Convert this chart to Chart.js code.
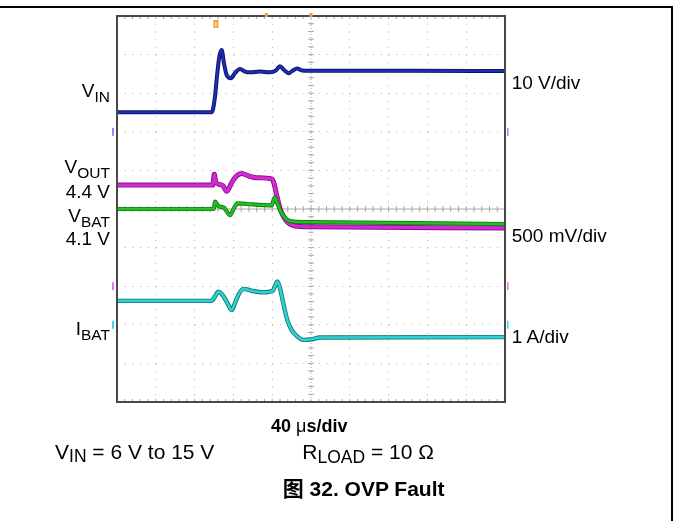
<!DOCTYPE html>
<html>
<head>
<meta charset="utf-8">
<title>OVP Fault</title>
<script src="https://cdn.jsdelivr.net/npm/chart.js@4.4.1/dist/chart.umd.min.js"></script>
<style>
  html, body { margin: 0; padding: 0; background: #fff; }
  #wrap { position: relative; width: 673px; height: 521px; overflow: hidden; }
  #scope { position: absolute; left: 0; top: 0; }
  .t { position: absolute; white-space: nowrap; line-height: 1; color: #000;
       font-family: "Liberation Sans", Arial, "Noto Sans CJK SC", sans-serif; }
  .side { font-size: 19px; }
  .side .s { font-size: 15.5px; position: relative; top: 5px; }
  .foot { font-size: 21px; }
  .foot .s { font-size: 17.5px; position: relative; top: 3.5px; }
  .rule { position: absolute; background: #000; }
</style>
</head>
<body>
<div id="wrap">
  <canvas id="scope" width="673" height="521"></canvas>
  <div class="rule" style="left:0;top:6px;width:673px;height:2px"></div>
  <div class="rule" style="left:671px;top:6px;width:2px;height:515px"></div>

  <div class="t side" style="right:563px;top:81.2px">V<span class="s">IN</span></div>
  <div class="t side" style="right:563px;top:157.2px">V<span class="s">OUT</span></div>
  <div class="t side" style="right:563px;top:182.2px">4.4 V</div>
  <div class="t side" style="right:563px;top:205.6px">V<span class="s">BAT</span></div>
  <div class="t side" style="right:563px;top:228.9px">4.1 V</div>
  <div class="t side" style="right:563px;top:318.9px">I<span class="s">BAT</span></div>

  <div class="t side" style="left:511.7px;top:73.2px">10 V/div</div>
  <div class="t side" style="left:511.7px;top:225.6px">500 mV/div</div>
  <div class="t side" style="left:511.7px;top:326.6px">1 A/div</div>

  <div class="t" style="left:271px;top:416.5px;font-size:18px;font-weight:bold">40 <span style="font-weight:normal">μ</span>s/div</div>
  <div class="t foot" style="left:55px;top:440.5px">V<span class="s">IN</span> = 6 V to 15 V</div>
  <div class="t foot" style="left:302.3px;top:441.2px">R<span class="s">LOAD</span> = 10 Ω</div>
  <div class="t foot" style="left:282.7px;top:477.9px;font-weight:bold">图 32. OVP Fault</div>
</div>

<script>
// time in µs, 40 µs/div, trigger at the centre of the screen
const vinTime  = [-200, -103, -101.3, -99, -96.6, -94.5, -92.1, -89.7, -86.9, -82.5, -78.4, -73.2, -68, -62.9, -52.6, -42.3, -36.1, -32, -27.8, -22.7, -18.6, -14.4, -9.3, 0, 100, 200];
const vinVolts = [5.05, 5.05, 5.6, 9.1, 15.2, 19.5, 21.2, 17.7, 14.7, 13.9, 15.2, 16.3, 15.6, 15.4, 15.6, 15.4, 15.9, 17.0, 16.0, 15.2, 15.9, 16.4, 15.9, 15.8, 15.8, 15.75];

const voutTime  = [-200, -101.3, -99.7, -98.2, -94.8, -90.7, -86.9, -84.5, -81.4, -76.6, -71.4, -64.6, -56, -40.5, -38.1, -35.4, -32, -28.6, -23.4, -16.5, 0, 200];
const voutVolts = [4.41, 4.41, 4.55, 4.45, 4.42, 4.40, 4.33, 4.37, 4.45, 4.53, 4.56, 4.53, 4.505, 4.49, 4.43, 4.28, 4.11, 4.01, 3.92, 3.88, 3.87, 3.855];

const vbatTime  = [-200, -100.2, -99, -95.6, -89.7, -83.5, -79.4, -76, -66.3, -40.5, -37.4, -34.7, -30.2, -25.1, -18.2, 0, 200];
const vbatVolts = [4.10, 4.10, 4.195, 4.14, 4.117, 4.02, 4.11, 4.174, 4.165, 4.148, 4.25, 4.174, 4.044, 3.966, 3.936, 3.93, 3.906];

const ibatTime = [-200, -102.4, -99, -95.6, -92.1, -86.9, -81.8, -78.4, -73.9, -69.1, -61.1, -49.2, -39.5, -34.7, -32, -28.6, -24.4, -19.9, -14.7, -7.9, -0.3, 9.3, 200];
const ibatAmps = [0.62, 0.62, 0.73, 0.86, 0.80, 0.60, 0.38, 0.56, 0.82, 0.93, 0.88, 0.84, 0.88, 1.12, 0.95, 0.56, 0.12, -0.14, -0.29, -0.39, -0.38, -0.33, -0.32];

// channel settings: value per division and the value that sits on the centre line
const vinScale = { perDiv: 10, centre: -20 };
const battScale = { perDiv: 0.5, centre: 4.1 };
const ibatScale = { perDiv: 1, centre: 3 };

function toDiv(times, values, scale) {
  return times.map((t, i) => ({ x: t, y: (values[i] - scale.centre) / scale.perDiv }));
}

// each trace is drawn twice: a darker wider edge under the coloured line
function trace(label, pts, core, edge, width, order) {
  return [
    { label: label, data: pts, borderColor: core, borderWidth: width, order: order },
    { label: label + ' edge', data: pts, borderColor: edge, borderWidth: width + 1.8, order: order + 1 }
  ];
}

const screenDecor = {
  id: 'screenDecor',
  beforeDatasetsDraw(chart) {
    const { ctx, chartArea: a } = chart;
    const cx = chart.scales.x.getPixelForValue(0);
    const cy = chart.scales.y.getPixelForValue(0);
    const sx = (a.right - a.left) / 50, sy = (a.bottom - a.top) / 50;
    ctx.save();
    ctx.lineWidth = 1;
    ctx.strokeStyle = '#a8a8a8';
    ctx.beginPath();
    ctx.moveTo(a.left, cy); ctx.lineTo(a.right, cy);
    for (let i = 1; i < 50; i++) {
      const px = a.left + i * sx, py = a.top + i * sy;
      ctx.moveTo(px, cy - 3); ctx.lineTo(px, cy + 3);
      ctx.moveTo(cx - 3, py); ctx.lineTo(cx + 3, py);
      ctx.moveTo(px, a.top); ctx.lineTo(px, a.top + 3);
      ctx.moveTo(px, a.bottom); ctx.lineTo(px, a.bottom - 3);
    }
    ctx.stroke();
    ctx.setLineDash([1, 2]);
    ctx.beginPath();
    ctx.moveTo(cx, a.top); ctx.lineTo(cx, a.bottom);
    ctx.stroke();
    ctx.restore();
  },
  afterDatasetsDraw(chart) {
    const { ctx, chartArea: a } = chart;
    const xs = chart.scales.x, ys = chart.scales.y;
    ctx.save();
    ctx.strokeStyle = '#484848';
    ctx.lineWidth = 2;
    ctx.strokeRect(a.left, a.top, a.right - a.left, a.bottom - a.top);

    // channel reference markers on both edges
    const refs = [[2, '#8a8aff'], [-2, '#e07ce0'], [-3, '#3fd6e6']];
    refs.forEach(([d, c]) => {
      const py = ys.getPixelForValue(d);
      ctx.fillStyle = c;
      ctx.fillRect(a.left - 5, py - 4, 2, 8);
      ctx.fillRect(a.right + 2, py - 4, 1.5, 8);
    });

    // trigger markers
    ctx.fillStyle = '#f0a030';
    const tx = xs.getPixelForValue(-98);
    ctx.fillRect(tx - 2.5, a.top + 4, 5, 8);
    ctx.fillStyle = '#fff';
    ctx.fillRect(tx - 0.5, a.top + 6, 1, 5);
    ctx.fillStyle = '#f0a030';
    [-46, 0].forEach((t) => {
      const px = xs.getPixelForValue(t);
      ctx.fillRect(px - 1.5, a.top - 3, 3, 4);
    });
    ctx.restore();
  }
};

const datasets = [].concat(
  trace('VIN', toDiv(vinTime, vinVolts, vinScale), '#1e2db4', '#0c146c', 2.2, 1),
  trace('VBAT', toDiv(vbatTime, vbatVolts, battScale), '#22c022', '#137a13', 2.4, 3),
  trace('VOUT', toDiv(voutTime, voutVolts, battScale), '#d42ad4', '#8a108a', 3.2, 5),
  trace('IBAT', toDiv(ibatTime, ibatAmps, ibatScale), '#2ed2d2', '#157777', 2.6, 1)
);

new Chart(document.getElementById('scope').getContext('2d'), {
  type: 'line',
  data: { datasets: datasets },
  options: {
    responsive: false,
    animation: false,
    devicePixelRatio: 1,
    layout: { padding: { left: 117, right: 168, top: 16, bottom: 119 } },
    elements: {
      point: { radius: 0 },
      line: { cubicInterpolationMode: 'monotone', fill: false }
    },
    scales: {
      x: {
        type: 'linear', min: -200, max: 200,
        ticks: { display: false, stepSize: 40 },
        grid: { color: '#b0b0b0', drawTicks: false },
        border: { display: false, dash: [1, 6.72] }
      },
      y: {
        type: 'linear', min: -5, max: 5,
        ticks: { display: false, stepSize: 1 },
        grid: { color: '#b0b0b0', drawTicks: false },
        border: { display: false, dash: [1, 6.76] }
      }
    },
    plugins: {
      legend: { display: false },
      tooltip: { enabled: false }
    }
  },
  plugins: [screenDecor]
});
</script>
</body>
</html>
